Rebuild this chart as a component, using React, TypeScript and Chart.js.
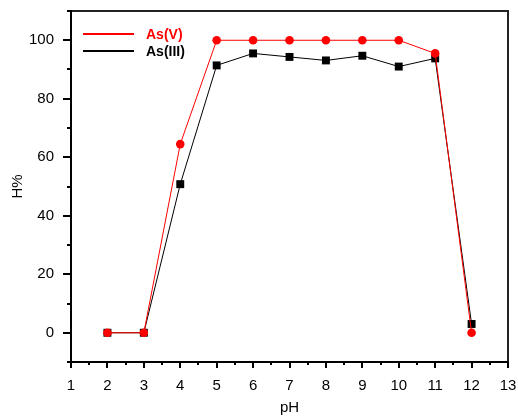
import React, { useEffect, useRef } from 'react';
import { Chart, registerables } from 'chart.js';

Chart.register(...registerables);

const pH = [2, 3, 4, 5, 6, 7, 8, 9, 10, 11, 12];
const asV = [0, 0, 64.5, 100, 100, 100, 100, 100, 100, 95.5, 0];
const asIII = [0, 0, 50.8, 91.4, 95.5, 94.3, 93.1, 94.7, 91.0, 93.8, 3.0];
const seriesNames = ['As(V)', 'As(III)'];
const seriesColors = ['#ff0000', '#000000'];
const xTitle = 'pH';
const yTitle = 'H%';

const FONT = '"Liberation Sans", Arial, sans-serif';

const framePlugin = {
  id: 'framePlugin',
  afterDraw(chart: any) {
    const ctx = chart.ctx;
    const ca = chart.chartArea;
    const left = Math.round(ca.left);
    const right = Math.round(ca.right);
    const top = Math.round(ca.top);
    const bottom = Math.round(ca.bottom);
    const xs = chart.scales.x;
    const ys = chart.scales.y;
    ctx.save();
    // top & right frame
    ctx.fillStyle = '#222222';
    ctx.fillRect(left - 1, top - 1, right - left + 2, 2);
    ctx.fillRect(right - 1, top - 1, 2, bottom - top + 2);
    // left & bottom axes
    ctx.fillStyle = '#000000';
    ctx.fillRect(left - 1, top - 1, 2, bottom - top + 2);
    ctx.fillRect(left - 1, bottom - 1, right - left + 2, 2);
    // ticks
    xs.ticks.forEach((t: any) => {
      const px = Math.round(xs.getPixelForValue(t.value));
      const major = Math.abs(t.value - Math.round(t.value)) < 1e-6;
      ctx.fillRect(px - 1, bottom, 2, major ? 6 : 3);
    });
    ys.ticks.forEach((t: any) => {
      const py = Math.round(ys.getPixelForValue(t.value));
      const major = Math.round(t.value) % 20 === 0;
      const len = major ? 7 : 3;
      ctx.fillRect(left - 1 - len, py - 1, len, 2);
    });
    // legend
    const lx = left + 12;
    const rows = [top + 23, top + 40];
    ctx.font = 'bold 14px ' + FONT;
    ctx.textBaseline = 'middle';
    seriesNames.forEach((name, i) => {
      ctx.fillStyle = seriesColors[i];
      ctx.fillRect(lx, rows[i] - 1, 51, 2);
      ctx.fillText(name, lx + 63, rows[i] + 1);
    });
    ctx.restore();
  },
};

export default function App() {
  const ref = useRef<HTMLCanvasElement>(null);
  useEffect(() => {
    document.body.style.margin = '0';
    const chart = new Chart(ref.current as HTMLCanvasElement, {
      type: 'line',
      data: {
        datasets: [
          {
            label: seriesNames[0],
            data: pH.map((x, i) => ({ x, y: asV[i] })),
            borderColor: seriesColors[0],
            backgroundColor: seriesColors[0],
            borderWidth: 1,
            pointStyle: 'circle',
            pointRadius: 4.3,
            pointBorderWidth: 0,
          },
          {
            label: seriesNames[1],
            data: pH.map((x, i) => ({ x, y: asIII[i] })),
            borderColor: seriesColors[1],
            backgroundColor: seriesColors[1],
            borderWidth: 1,
            pointStyle: 'rect',
            pointRadius: 5.6,
            pointBorderWidth: 0,
          },
        ],
      },
      options: {
        responsive: false,
        animation: false,
        layout: { padding: { left: 0, top: 11, right: 10, bottom: 0 } },
        plugins: { legend: { display: false }, tooltip: { enabled: false } },
        scales: {
          x: {
            type: 'linear',
            min: 1,
            max: 13,
            grid: { display: false },
            border: { display: false },
            afterFit: (s: any) => {
              s.height = 55;
              s.paddingLeft = 0;
              s.paddingRight = 0;
            },
            ticks: {
              stepSize: 0.5,
              autoSkip: false,
              maxRotation: 0,
              padding: 7,
              color: '#000',
              font: { family: FONT, size: 15 },
              callback: (v: any) => (Math.abs(v - Math.round(v)) < 1e-6 ? String(Math.round(v)) : ''),
            },
            title: {
              display: true,
              text: xTitle,
              color: '#000',
              font: { family: FONT, size: 15 },
              padding: { top: 0, bottom: 0 },
            },
          },
          x2: {
            type: 'linear',
            position: 'top',
            min: 1,
            max: 13,
            ticks: { display: false },
            grid: { display: false, drawTicks: false },
            border: { display: true, color: '#222222', width: 2 },
            afterFit: (s: any) => {
              s.height = 0;
              s.paddingLeft = 0;
              s.paddingRight = 0;
            },
          },
          y: {
            type: 'linear',
            min: -10,
            max: 110,
            grid: { display: false },
            border: { display: false },
            afterFit: (s: any) => {
              s.width = 71;
              s.paddingTop = 0;
              s.paddingBottom = 0;
            },
            ticks: {
              stepSize: 10,
              autoSkip: false,
              padding: 9,
              color: '#000',
              font: { family: FONT, size: 15 },
              callback: (v: any) => (Math.round(v) % 20 === 0 && v >= 0 && v <= 100 ? String(Math.round(v)) : ''),
            },
            title: {
              display: true,
              text: yTitle,
              color: '#000',
              font: { family: FONT, size: 15 },
              padding: { top: 9, bottom: 0 },
            },
          },
          y2: {
            type: 'linear',
            position: 'right',
            min: -10,
            max: 110,
            ticks: { display: false },
            grid: { display: false, drawTicks: false },
            border: { display: true, color: '#222222', width: 2 },
            afterFit: (s: any) => {
              s.width = 0;
              s.paddingTop = 0;
              s.paddingBottom = 0;
            },
          },
        },
      },
      plugins: [framePlugin],
    });
    return () => chart.destroy();
  }, []);
  return (
    <div style={{ width: 518, height: 417, background: '#fff' }}>
      <canvas ref={ref} width={518} height={417} />
    </div>
  );
}
